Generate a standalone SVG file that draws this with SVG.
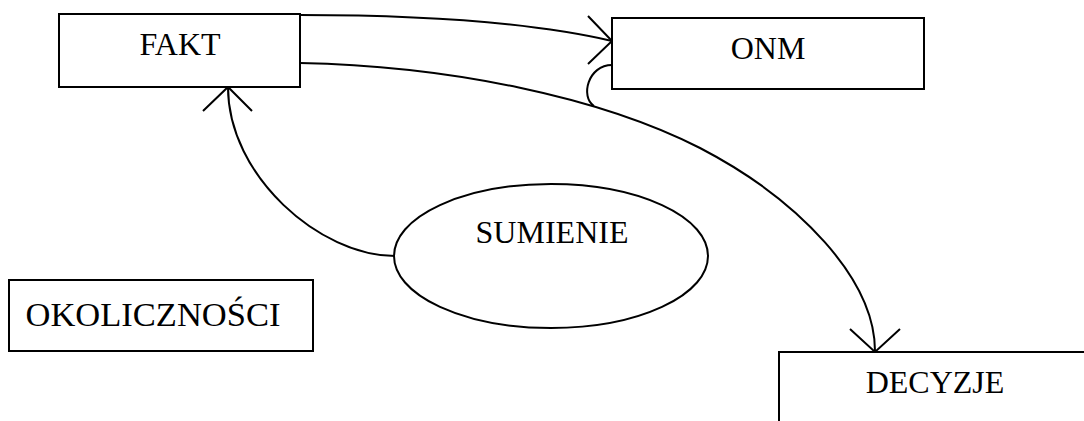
<svg xmlns="http://www.w3.org/2000/svg" width="1084" height="421" viewBox="0 0 1084 421">
<style>
.box{fill:#fff;stroke:#000;stroke-width:2}
.ln{fill:none;stroke:#000;stroke-width:2}
.t{font-family:"Liberation Serif","Times New Roman",serif;font-size:32px;fill:#000;text-anchor:middle}
</style>
<rect width="1084" height="421" fill="#fff"/>
<g id="connectors">
<path class="ln" d="M300,15 C420,15 530,22 612,41"/>
<path class="ln" d="M588,16 L612,41 L588,64"/>
<path class="ln" d="M300,63 C450,66 600,97 700,148 C800,200 875,280 875,351"/>
<path class="ln" d="M850,329 L875,352 L900,329"/>
<path class="ln" d="M612,65 C588,65 580,97 594,106"/>
<path class="ln" d="M395,256 C320,256 228,176 228,87"/>
<path class="ln" d="M203,111 L228,87 L252,111"/>
</g>
<g id="fakt">
<rect class="box" x="59" y="14" width="241" height="73"/>
<text class="t" x="180" y="55">FAKT</text>
</g>
<g id="onm">
<rect class="box" x="612" y="18" width="312" height="71"/>
<text class="t" x="768" y="59">ONM</text>
</g>
<g id="sumienie">
<ellipse class="box" cx="551" cy="256" rx="157" ry="72"/>
<text class="t" x="552" y="243">SUMIENIE</text>
</g>
<g id="okolicznosci">
<rect class="box" x="9" y="280" width="304" height="71"/>
<text class="t" x="153" y="326" style="font-size:34.5px">OKOLICZNOŚCI</text>
</g>
<g id="decyzje">
<rect class="box" x="779" y="352" width="320" height="100"/>
<text class="t" x="935" y="393">DECYZJE</text>
</g>
</svg>
